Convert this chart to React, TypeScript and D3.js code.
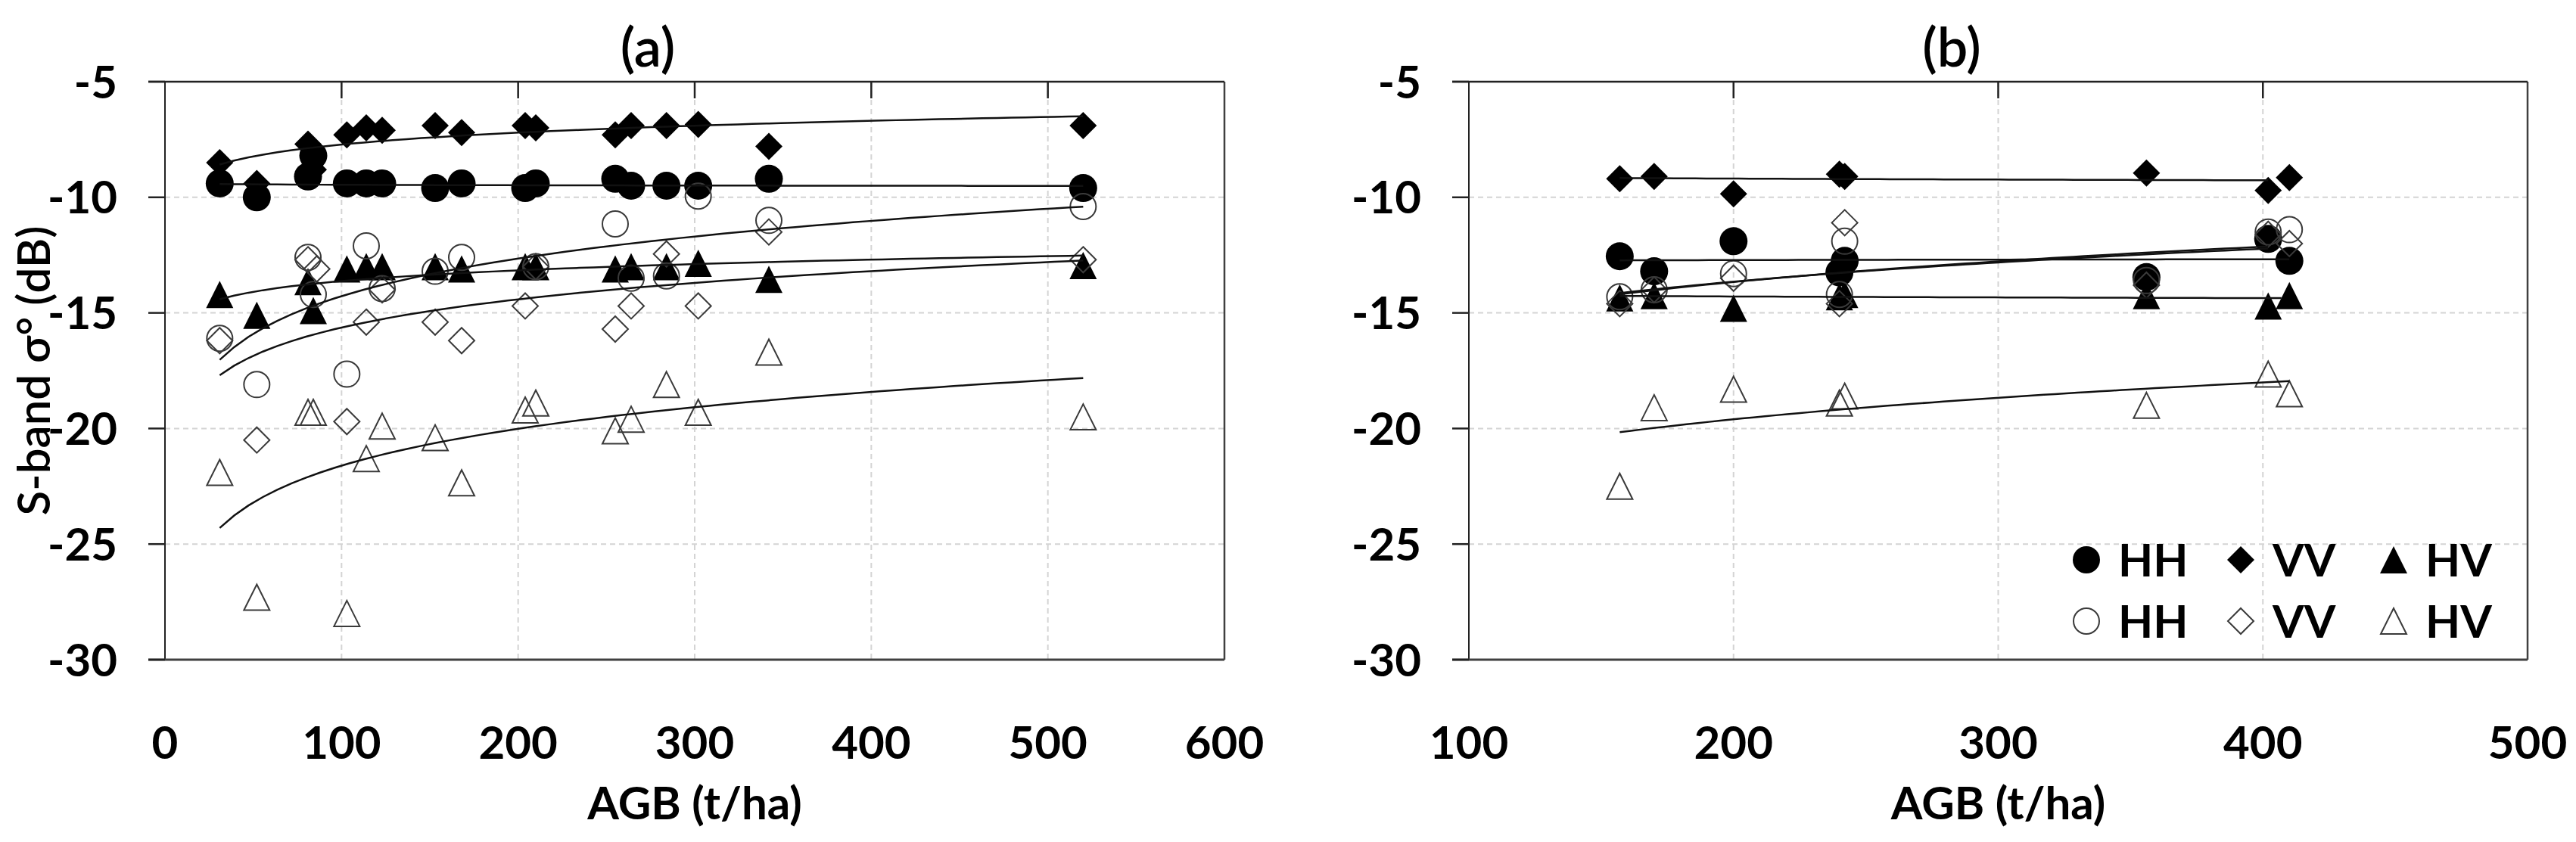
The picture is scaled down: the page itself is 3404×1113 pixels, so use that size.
import React from 'react';
import * as d3 from 'd3';

const W = 3404;
const H = 1113;

const yTicks = [-5, -10, -15, -20, -25, -30];
const xTicksA = [0, 100, 200, 300, 400, 500, 600];
const xTicksB = [100, 200, 300, 400, 500];

// panel (a): [AGB t/ha, sigma0 dB]
const hhFilledA = [[31, -9.4], [52, -10.0], [81, -9.1], [84, -8.2], [103, -9.4], [114, -9.4], [123, -9.4], [153, -9.6], [168, -9.4], [204, -9.6], [210, -9.4], [255, -9.2], [264, -9.5], [284, -9.5], [302, -9.5], [342, -9.2], [520, -9.6]];
const vvFilledA = [[31, -8.5], [52, -9.4], [81, -7.7], [84, -8.8], [103, -7.3], [114, -7.0], [123, -7.1], [153, -6.9], [168, -7.2], [204, -6.9], [210, -7.0], [255, -7.3], [264, -6.9], [284, -6.9], [302, -6.85], [342, -7.8], [520, -6.9]];
const hvFilledA = [[31, -14.2], [52, -15.1], [81, -13.65], [84, -14.9], [103, -13.1], [114, -13.0], [123, -13.0], [153, -13.0], [168, -13.1], [204, -13.0], [210, -13.0], [255, -13.1], [264, -13.0], [284, -13.0], [302, -12.85], [342, -13.55], [520, -12.95]];
const hhOpenA = [[31, -16.1], [52, -18.1], [81, -12.6], [84, -14.2], [103, -17.65], [114, -12.1], [123, -13.95], [153, -13.2], [168, -12.6], [210, -13.0], [255, -11.15], [264, -13.5], [284, -13.4], [302, -9.95], [342, -11.0], [520, -10.4]];
const vvOpenA = [[31, -16.2], [52, -20.5], [81, -12.7], [86, -13.1], [103, -19.7], [114, -15.4], [123, -14.0], [153, -15.4], [168, -16.2], [204, -14.7], [210, -13.0], [255, -15.7], [264, -14.7], [284, -12.45], [302, -14.7], [342, -11.5], [520, -12.7]];
const hvOpenA = [[31, -21.9], [52, -27.3], [81, -19.3], [84, -19.3], [103, -28.0], [114, -21.3], [123, -19.9], [153, -20.4], [168, -22.35], [204, -19.2], [210, -18.9], [255, -20.1], [264, -19.6], [284, -18.1], [302, -19.3], [342, -16.7], [520, -19.5]];

// panel (b)
const hhFilledB = [[157, -12.55], [170, -13.2], [200, -11.9], [240, -13.25], [242, -12.75], [356, -13.45], [402, -11.8], [410, -12.75]];
const vvFilledB = [[157, -9.2], [170, -9.1], [200, -9.85], [240, -9.0], [242, -9.1], [356, -8.95], [402, -9.7], [410, -9.15]];
const hvFilledB = [[157, -14.35], [170, -14.25], [200, -14.8], [240, -14.3], [242, -14.2], [356, -14.25], [402, -14.7], [410, -14.25]];
const hhOpenB = [[157, -14.3], [170, -14.0], [200, -13.3], [240, -14.2], [242, -11.9], [356, -13.6], [402, -11.5], [410, -11.4]];
const vvOpenB = [[157, -14.6], [170, -14.0], [200, -13.5], [240, -14.6], [242, -11.1], [356, -13.8], [402, -11.6], [410, -12.0]];
const hvOpenB = [[157, -22.5], [170, -19.1], [200, -18.3], [240, -18.9], [242, -18.6], [356, -19.0], [402, -17.65], [410, -18.5]];

// logarithmic trendlines y = a*ln(x) + b, coefficients estimated from the figure
const trendsA = [
  { a: -0.03, b: -9.32, x0: 31, x1: 520 },
  { a: 0.741, b: -11.13, x0: 31, x1: 520 },
  { a: 0.67, b: -16.71, x0: 31, x1: 520 },
  { a: 2.35, b: -25.1, x0: 31, x1: 520 },
  { a: 1.76, b: -23.74, x0: 31, x1: 520 },
  { a: 2.3, b: -32.2, x0: 31, x1: 520 },
];
const trendsB = [
  { a: 0.05, b: -12.98, x0: 157, x1: 410 },
  { a: -0.104, b: -8.64, x0: 157, x1: 402 },
  { a: -0.1, b: -13.76, x0: 157, x1: 407 },
  { a: 2.2, b: -25.32, x0: 157, x1: 402 },
  { a: 2.05, b: -24.51, x0: 157, x1: 402 },
  { a: 2.3, b: -31.79, x0: 157, x1: 410 },
];

const seriesStyle = [
  { label: 'HH', shape: 'circle', filled: true },
  { label: 'VV', shape: 'diamond', filled: true },
  { label: 'HV', shape: 'triangle', filled: true },
  { label: 'HH', shape: 'circle', filled: false },
  { label: 'VV', shape: 'diamond', filled: false },
  { label: 'HV', shape: 'triangle', filled: false },
];

const FONT = "Lato, 'Open Sans', sans-serif";

function shapePath(shape, s) {
  const h = s / 2;
  if (shape === 'diamond') return `M0,${-h}L${h},0L0,${h}L${-h},0Z`;
  if (shape === 'triangle') return `M0,${-h}L${h},${h}L${-h},${h}Z`;
  const p = d3.path();
  p.arc(0, 0, h, 0, Math.PI * 2);
  p.closePath();
  return p.toString();
}

function markerSize(shape, filled) {
  if (shape === 'circle') return filled ? 37 : 34;
  return filled ? 36 : 34;
}

function Marker({ shape, filled, x, y, size }) {
  const s = size ?? markerSize(shape, filled);
  return (
    <path
      d={shapePath(shape, s)}
      transform={`translate(${x},${y})`}
      fill={filled ? '#000' : 'none'}
      stroke={filled ? 'none' : '#3a3a3a'}
      strokeWidth={filled ? 0 : 2}
    />
  );
}

const y = d3.scaleLinear().domain([-30, -5]).range([872, 108]);

function Panel({ x, xTicks, series, trends, title }) {
  const [left, right] = x.range();
  const top = y(-5);
  const bottom = y(-30);
  const line = d3.line().x(d => x(d[0])).y(d => y(d[1]));
  const inner = xTicks.filter(t => x(t) > left + 1 && x(t) < right - 1);
  return (
    <g>
      {/* grid */}
      {inner.map(t => (
        <line key={'gx' + t} x1={x(t)} x2={x(t)} y1={top} y2={bottom} stroke="#d4d4d4" strokeWidth={2} strokeDasharray="7 5" />
      ))}
      {yTicks.filter(t => t > -30 && t < -5).map(t => (
        <line key={'gy' + t} x1={left} x2={right} y1={y(t)} y2={y(t)} stroke="#d4d4d4" strokeWidth={2} strokeDasharray="7 5" />
      ))}

      {/* axes and frame */}
      <line x1={right} x2={right} y1={top} y2={bottom} stroke="#404040" strokeWidth={2.5} />
      <line x1={left} x2={left} y1={top} y2={bottom} stroke="#222" strokeWidth={2} />
      <line x1={left - 22} x2={right} y1={top} y2={top} stroke="#222" strokeWidth={2.5} />
      <line x1={left - 22} x2={right} y1={bottom} y2={bottom} stroke="#404040" strokeWidth={3} />
      {yTicks.map(t => (
        <line key={'ty' + t} x1={left - 22} x2={left} y1={y(t)} y2={y(t)} stroke="#222" strokeWidth={2.5} />
      ))}
      {inner.map(t => (
        <line key={'tx' + t} x1={x(t)} x2={x(t)} y1={top} y2={top + 22} stroke="#222" strokeWidth={2.5} />
      ))}

      {/* tick labels */}
      {yTicks.map(t => (
        <text key={'ly' + t} x={left - 63} y={y(t)} dy="0.36em" textAnchor="end" fontFamily={FONT} fontWeight="bold" fontSize={60}>{t}</text>
      ))}
      {xTicks.map(t => (
        <text key={'lx' + t} x={x(t)} y={1003} textAnchor="middle" fontFamily={FONT} fontWeight="bold" fontSize={60}>{t}</text>
      ))}
      <text x={(left + right) / 2} y={1083} textAnchor="middle" fontFamily={FONT} fontWeight="bold" fontSize={60}>AGB (t/ha)</text>
      <text x={left + 638} y={88} textAnchor="middle" fontFamily={FONT} fontWeight={600} fontSize={72}>{title}</text>

      {/* points */}
      {series.map((s, i) => (
        <g key={'s' + i}>
          {s.map((d, j) => (
            <Marker key={j} shape={seriesStyle[i].shape} filled={seriesStyle[i].filled} x={x(d[0])} y={y(d[1])} />
          ))}
        </g>
      ))}

      {/* trendlines */}
      {trends.map((tr, i) => {
        const n = 60;
        const pts = d3.range(n + 1).map(k => {
          const xv = tr.x0 + (tr.x1 - tr.x0) * k / n;
          return [xv, tr.a * Math.log(xv) + tr.b];
        });
        return <path key={'t' + i} d={line(pts)} fill="none" stroke="#111" strokeWidth={2.5} />;
      })}
    </g>
  );
}

export default function App() {
  const xA = d3.scaleLinear().domain([0, 600]).range([218, 1618]);
  const xB = d3.scaleLinear().domain([100, 500]).range([1941, 3340]);
  const legendCols = [2757, 2961, 3163];
  const legendRows = [740, 821];

  return (
    <svg width={W} height={H} viewBox={`0 0 ${W} ${H}`} style={{ position: 'absolute', left: 0, top: 0, background: '#fff', display: 'block' }}>
      <rect width={W} height={H} fill="#fff" />
      <Panel x={xA} xTicks={xTicksA} title="(a)"
        series={[hhFilledA, vvFilledA, hvFilledA, hhOpenA, vvOpenA, hvOpenA]} trends={trendsA} />
      <Panel x={xB} xTicks={xTicksB} title="(b)"
        series={[hhFilledB, vvFilledB, hvFilledB, hhOpenB, vvOpenB, hvOpenB]} trends={trendsB} />

      <text transform={`translate(45,${(y(-5) + y(-30)) / 2}) rotate(-90)`} dy="0.35em" textAnchor="middle" fontFamily={FONT} fontWeight={600} fontSize={60}>S-band σ° (dB)</text>

      {/* legend */}
      {seriesStyle.map((s, i) => {
        const cx = legendCols[i % 3];
        const cy = legendRows[Math.floor(i / 3)];
        return (
          <g key={'lg' + i}>
            <Marker shape={s.shape} filled={s.filled} x={cx} y={cy} size={s.filled ? 36 : 34} />
            <text x={cx + 42} y={cy} dy="0.36em" fontFamily={FONT} fontWeight="bold" fontSize={60}>{s.label}</text>
          </g>
        );
      })}
    </svg>
  );
}
